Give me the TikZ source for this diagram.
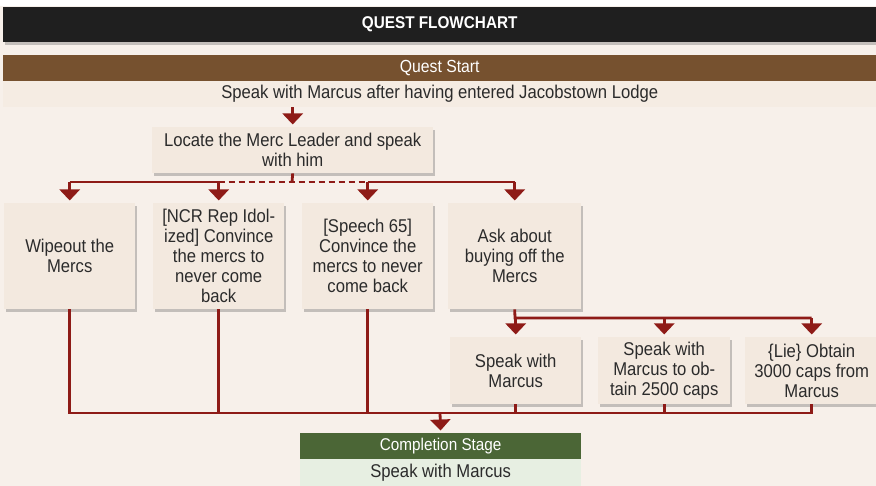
\documentclass[tikz,border=0pt]{standalone}
\usepackage{fontspec}
\setmainfont{Liberation Sans}[FakeStretch=0.9]
\usetikzlibrary{arrows.meta,shadows}
\definecolor{bg}{HTML}{F7F0EA}
\definecolor{boxfill}{HTML}{F3E9DF}
\definecolor{rowfill}{HTML}{F5ECE3}
\definecolor{linered}{HTML}{8E1B17}
\definecolor{brownhd}{HTML}{76512F}
\definecolor{greenhd}{HTML}{4B6636}
\definecolor{greenlt}{HTML}{E7EFE2}
\definecolor{ink}{HTML}{2B2B2B}
\begin{document}
\begin{tikzpicture}[x=1pt,y=-1pt,
  shad/.style={drop shadow={shadow xshift=2pt,shadow yshift=-2.5pt,opacity=0.3,fill=black!70}},
  box/.style={shad,fill=boxfill,inner sep=0pt,anchor=north west,align=center,text=ink,
    font=\fontsize{18.5}{20}\selectfont},
  bar/.style={inner sep=0pt,anchor=north west,align=center},
  conn/.style={draw=linered,line width=2.8pt},
  arr/.style={conn,-{Triangle[width=20pt,length=11pt]},shorten >=2.5pt},
  dsh/.style={conn,dash pattern=on 6pt off 4pt}]
\useasboundingbox (0,0) rectangle (876,486);
\fill[bg] (0,0) rectangle (876,486);
\fill[white] (0,0) rectangle (876,6);
% header
\node[bar,shad,fill=black!88,minimum width=873pt,minimum height=35pt,text=white,
  font=\fontsize{17}{18}\selectfont\bfseries] (title) at (3,7) {QUEST FLOWCHART};
\node[bar,shad,fill=brownhd,minimum width=873pt,minimum height=26pt,text=white,
  font=\fontsize{17.5}{18}\selectfont] (qs) at (3,55) {Quest Start};
\node[bar,fill=rowfill,minimum width=873pt,minimum height=26pt,text=ink,
  font=\fontsize{18.5}{18}\selectfont] (qsr) at (3,81) {Speak with Marcus after having entered Jacobstown Lodge};
% locate
\node[box,minimum width=281pt,minimum height=46pt] (loc) at (152,127) {Locate the Merc Leader and speak\\with him};
% row 1
\node[box,minimum width=131pt,minimum height=106pt] (w) at (4,203) {Wipeout the\\Mercs};
\node[box,minimum width=131pt,minimum height=106pt] (ncr) at (153,203) {[NCR Rep Idol-\\ized] Convince\\the mercs to\\never come\\back};
\node[box,minimum width=131pt,minimum height=106pt] (sp) at (302,203) {[Speech 65]\\Convince the\\mercs to never\\come back};
\node[box,minimum width=133pt,minimum height=106pt] (ask) at (448,203) {Ask about\\buying off the\\Mercs};
% row 2
\node[box,minimum width=131pt,minimum height=67pt] (m1) at (450,337) {Speak with\\Marcus};
\node[box,minimum width=132pt,minimum height=67pt] (m2) at (598,337) {Speak with\\Marcus to ob-\\tain 2500 caps};
\node[box,minimum width=133pt,minimum height=67pt] (m3) at (745,337) {\{Lie\} Obtain\\3000 caps from\\Marcus};
% completion
\node[bar,fill=greenhd,minimum width=281pt,minimum height=26pt,text=white,
  font=\fontsize{17}{18}\selectfont] (cs) at (300,433) {Completion Stage};
\node[bar,fill=greenlt,minimum width=281pt,minimum height=27pt,text=ink,
  font=\fontsize{18.5}{18}\selectfont] (csr) at (300,459) {Speak with Marcus};
% connectors
\coordinate (br) at (292,182);
\coordinate (br2) at (515,318);
\coordinate (bot) at (440,413);
\draw[arr] (qsr.south -| loc.north) -- (loc.north);
\draw[conn] (loc.south) -- (br);
\draw[conn] (w.north |- br) -- (ncr.north |- br);
\draw[dsh] (ncr.north |- br) -- (sp.north |- br);
\draw[conn] (sp.north |- br) -- (ask.north |- br);
\draw[arr] (w.north |- br) -- (w.north);
\draw[arr] (ncr.north |- br) -- (ncr.north);
\draw[arr] (sp.north |- br) -- (sp.north);
\draw[arr] (ask.north |- br) -- (ask.north);
\draw[conn] (ask.south) -- (br2) -- (m3.north |- br2);
\draw[arr] (m1.north |- br2) -- (m1.north);
\draw[arr] (m2.north |- br2) -- (m2.north);
\draw[arr] (m3.north |- br2) -- (m3.north);
\draw[conn] (w.south) -- (w.south |- bot) -- (m3.south |- bot) -- (m3.south);
\draw[conn] (ncr.south) -- (ncr.south |- bot);
\draw[conn] (sp.south) -- (sp.south |- bot);
\draw[conn] (m1.south) -- (m1.south |- bot);
\draw[conn] (m2.south) -- (m2.south |- bot);
\draw[arr] (bot) -- (cs.north);
\end{tikzpicture}
\end{document}
